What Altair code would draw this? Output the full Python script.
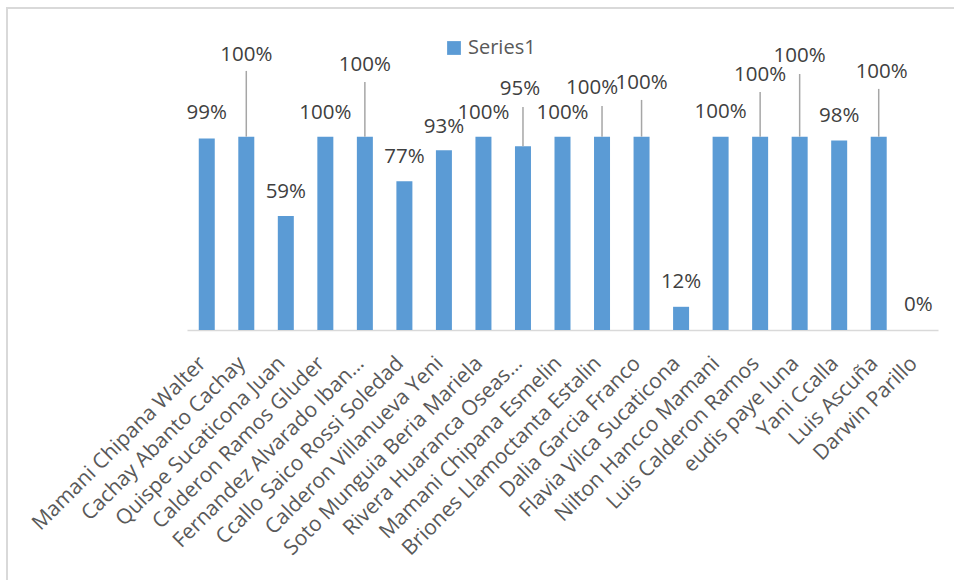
import altair as alt
import pandas as pd

names = [
    "Mamani Chipana Walter", "Cachay Abanto Cachay", "Quispe Sucaticona Juan",
    "Calderon Ramos Gluder", "Fernandez Alvarado Iban…", "Ccallo Saico Rossi Soledad",
    "Calderon Villanueva Yeni", "Soto Munguia Beria Mariela", "Rivera Huaranca Oseas…",
    "Mamani Chipana Esmelin", "Briones Llamoctanta Estalin", "Dalia Garcia Franco",
    "Flavia Vilca Sucaticona", "Nilton Hancco Mamani", "Luis Calderon Ramos",
    "eudis paye luna", "Yani Ccalla", "Luis Ascuña", "Darwin Parillo",
]
values = [0.99, 1.00, 0.59, 1.00, 1.00, 0.77, 0.93, 1.00, 0.95, 1.00,
          1.00, 1.00, 0.12, 1.00, 1.00, 1.00, 0.98, 1.00, 0.00]
series = ["Series1"] * len(names)

# label placement (in value units) as in the reference, leader line tops
label_at = [1.123, 1.423, 0.714, 1.123, 1.371, 0.895, 1.050, 1.123, 1.247, 1.123,
            1.252, 1.278, 0.248, 1.128, 1.319, 1.418, 1.107, 1.335, 0.129]
leader_top = [None, 1.340, None, None, 1.283, None, None, None, 1.154, None,
              1.159, 1.190, None, None, 1.231, 1.324, None, 1.247, None]
label_shift = [0, 0, 0, 0, 0, 0, 0, 0, -3, 0, -10, 0, 0, 0, 0, 0, 0, 3, 0]

df = pd.DataFrame({
    "name": names, "value": values, "series": series,
    "label_at": label_at, "leader_top": leader_top, "shift": label_shift,
})
df["label"] = [f"{round(v*100)}%" for v in values]

FONT = "Open Sans"
xenc = alt.X("name:N", sort=names, title=None,
             scale=alt.Scale(paddingInner=0.6, paddingOuter=0.3),
             axis=alt.Axis(labelAngle=-45, labelAlign="right", labelBaseline="middle",
                           labelFontSize=21, labelFont=FONT, labelColor="#595959",
                           labelPadding=30, labelOffset=-4, labelLimit=0, ticks=False,
                           domainColor="#d9d9d9", domainWidth=1.5, labelOverlap=False))
yscale = alt.Scale(domain=[0, 1.5])

bars = alt.Chart(df).mark_bar(size=16).encode(
    x=xenc,
    y=alt.Y("value:Q", scale=yscale, axis=None),
    color=alt.Color("series:N", scale=alt.Scale(range=["#5B9BD5"]),
                    legend=alt.Legend(title=None, orient="none", legendX=257, legendY=-2,
                                      symbolType="square", symbolSize=190,
                                      labelFontSize=20, labelFont=FONT,
                                      labelColor="#595959", padding=0)),
)

leaders = alt.Chart(df).transform_filter("datum.leader_top != null").mark_rule(
    color="#a6a6a6", strokeWidth=1.5).encode(
    x=alt.X("name:N", sort=names, bandPosition=0.5),
    y=alt.Y("value:Q", scale=yscale),
    y2="leader_top:Q",
)

label_layers = []
for s in sorted(set(label_shift)):
    label_layers.append(
        alt.Chart(df).transform_filter(f"datum.shift == {s}").mark_text(
            font=FONT, fontSize=20.5, color="#404040", baseline="middle", dx=s).encode(
            x=alt.X("name:N", sort=names, bandPosition=0.5),
            y=alt.Y("label_at:Q", scale=yscale),
            text="label:N",
        )
    )

frame_left = alt.Chart(df).mark_rule(color="#d9d9d9", strokeWidth=2).encode(
    x=alt.value(-180), y=alt.value(-32), y2=alt.value(600))
frame_top = alt.Chart(df).mark_rule(color="#d9d9d9", strokeWidth=2).encode(
    x=alt.value(-181), x2=alt.value(800), y=alt.value(-32))

chart = alt.layer(frame_left, frame_top, bars, leaders, *label_layers).properties(
    width=751, height=290,
    background="white",
    autosize=alt.AutoSizeParams(type="none"),
    padding={"left": 187, "top": 40, "right": 16, "bottom": 250},
).configure_view(stroke=None, strokeWidth=0)

chart.save("out.html", embed_options={"renderer": "svg", "actions": False})
